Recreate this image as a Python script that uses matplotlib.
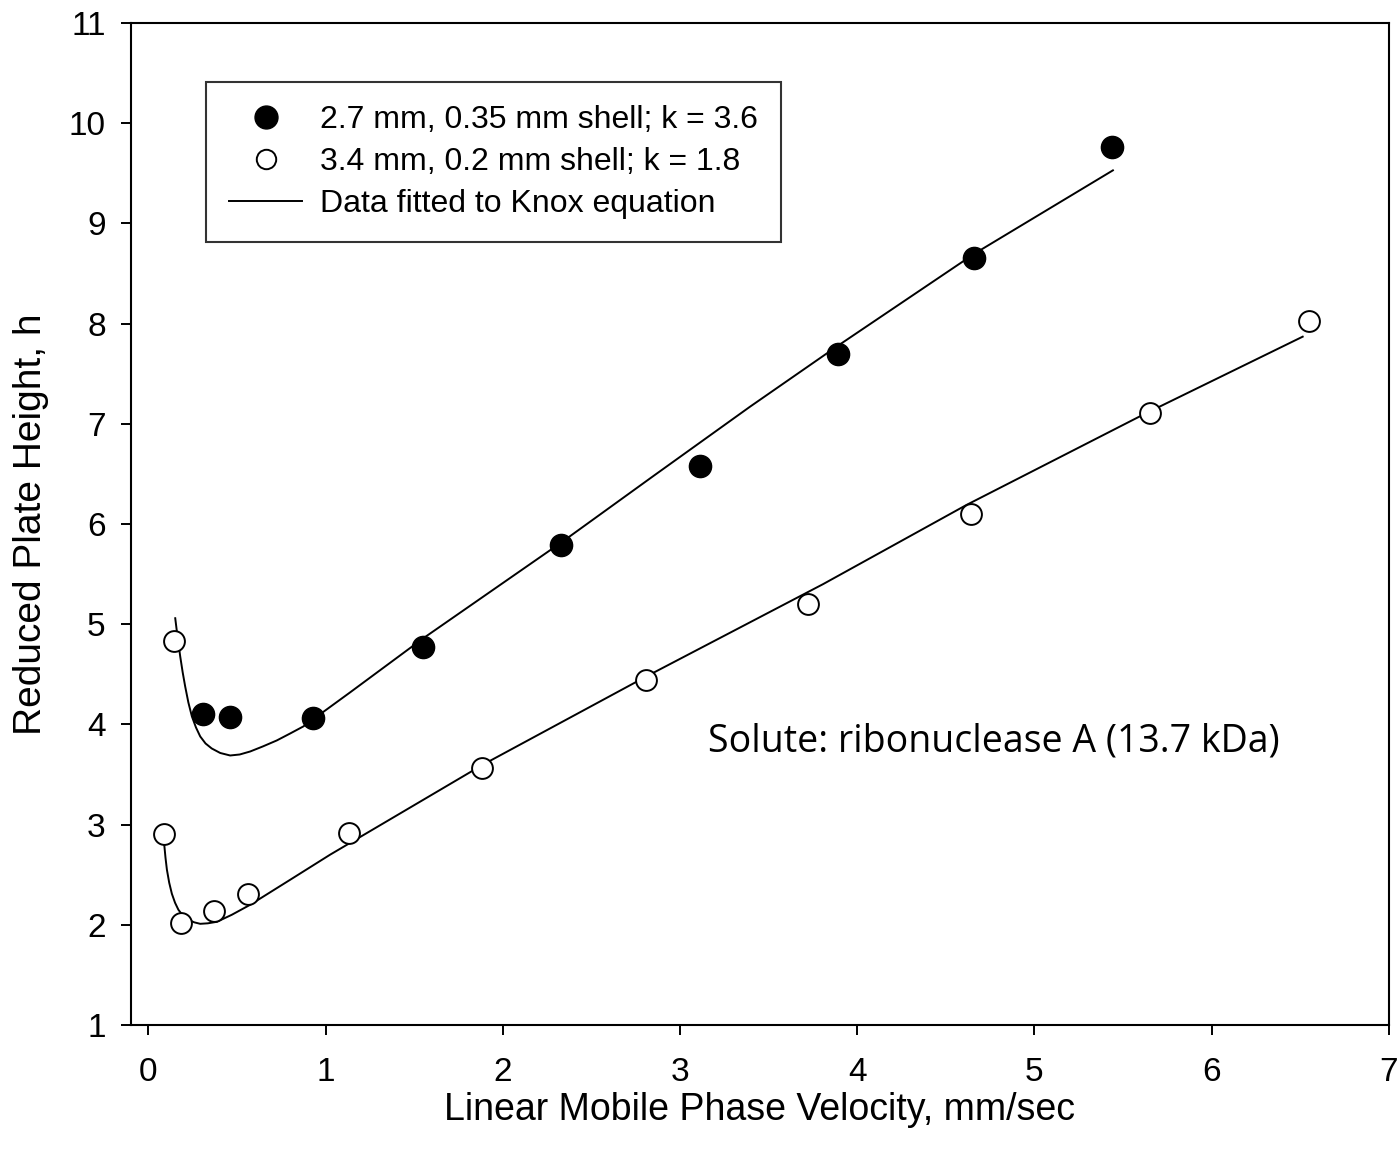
import matplotlib
matplotlib.use("Agg")
import matplotlib.pyplot as plt
from matplotlib.lines import Line2D

plt.rcParams['font.family'] = ['Liberation Sans', 'DejaVu Sans']

# measured points, 2.7 mm particles (filled)
v_filled = [0.31, 0.46, 0.93, 1.55, 2.33, 3.11, 3.89, 4.66, 5.44]
h_filled = [4.10, 4.07, 4.06, 4.77, 5.79, 6.58, 7.70, 8.66, 9.76]

# measured points, 3.4 mm particles (open)
v_open = [0.145, 0.09, 0.185, 0.37, 0.56, 1.13, 1.88, 2.81, 3.72, 4.64, 5.65, 6.55]
h_open = [4.83, 2.91, 2.02, 2.14, 2.31, 2.92, 3.57, 4.44, 5.20, 6.10, 7.11, 8.03]

# Knox fit curves
v_fit_filled = [0.151, 0.165, 0.179, 0.193, 0.207, 0.225, 0.245, 0.268, 0.292, 0.322,
                0.357, 0.405, 0.461, 0.515, 0.574, 0.645, 0.724, 0.80, 0.874,
                1.138, 1.551, 2.341, 2.85, 3.394, 3.883, 4.663, 5.443]
h_fit_filled = [5.06, 4.86, 4.68, 4.52, 4.38, 4.22, 4.08, 3.97, 3.88, 3.81,
                3.76, 3.715, 3.69, 3.70, 3.73, 3.78, 3.84, 3.91, 3.98,
                4.32, 4.86, 5.83, 6.48, 7.17, 7.77, 8.70, 9.53]

v_fit_open = [0.089, 0.096, 0.104, 0.117, 0.132, 0.150, 0.169, 0.195, 0.226, 0.258,
              0.292, 0.335, 0.386, 0.47, 0.574, 0.80, 1.025,
              1.889, 2.811, 3.807, 4.616, 5.612, 6.514]
h_fit_open = [2.80, 2.67, 2.55, 2.42, 2.31, 2.22, 2.15, 2.09, 2.05, 2.025,
              2.01, 2.015, 2.03, 2.10, 2.20, 2.45, 2.70,
              3.60, 4.48, 5.40, 6.19, 7.09, 7.87]

labels = ['2.7 mm, 0.35 mm shell; k = 3.6',
          '3.4 mm, 0.2 mm shell; k = 1.8',
          'Data fitted to Knox equation']

fig = plt.figure(figsize=(14, 11.53), dpi=100)
ax = fig.add_axes([0.0934, 0.111, 0.8986, 0.869])

ax.plot(v_fit_filled, h_fit_filled, color='black', lw=1.4, zorder=2)
ax.plot(v_fit_open, h_fit_open, color='black', lw=1.4, zorder=2)
ax.plot(v_filled, h_filled, 'o', ms=16, mfc='black', mec='black', zorder=3)
ax.plot(v_open, h_open, 'o', ms=15, mfc='white', mec='black', mew=1.4, zorder=3)

ax.set_xlim(-0.1, 7)
ax.set_ylim(1, 11)
ax.set_xticks(range(0, 8))
ax.set_yticks(range(1, 12))
ax.tick_params(direction='out', length=7, width=1.4, labelsize=24)
ax.tick_params(axis='x', pad=16)
ax.tick_params(axis='y', pad=11)
for s in ax.spines.values():
    s.set_linewidth(1.5)

ax.set_xlabel('Linear Mobile Phase Velocity, mm/sec', fontsize=27, labelpad=3)
ax.set_ylabel('Reduced Plate Height, h', fontsize=28, labelpad=14)

ax.text(3.16, 3.83, 'Solute: ribonuclease A (13.7 kDa)', fontsize=27,
        family=['Open Sans', 'DejaVu Sans'], va='center', ha='left')

handles = [Line2D([], [], ls='none', marker='o', ms=16.5, mfc='black', mec='black'),
           Line2D([], [], ls='none', marker='o', ms=14, mfc='white', mec='black', mew=1.4),
           Line2D([], [], color='black', lw=1.4)]
leg = ax.legend(handles, labels, loc='upper left', bbox_to_anchor=(0.0598, 0.941),
                borderaxespad=0, fontsize=23, frameon=True, fancybox=False,
                edgecolor='black', handlelength=2.3, handletextpad=0.55,
                labelspacing=0.38, borderpad=0.72)
leg.get_frame().set_linewidth(1.5)

fig.savefig('out.png', dpi=100)
